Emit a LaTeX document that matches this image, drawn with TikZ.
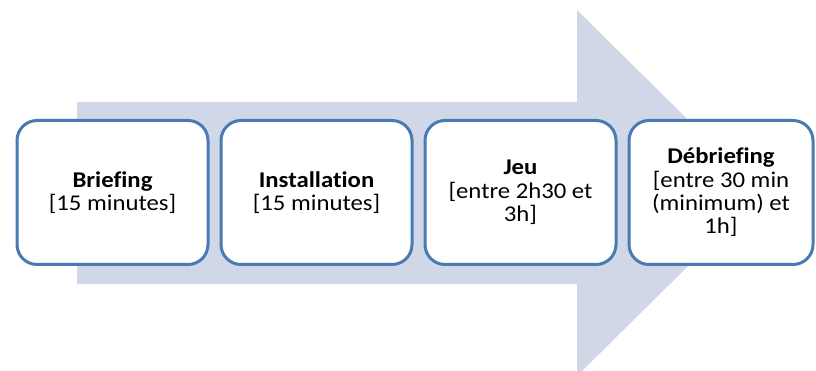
\documentclass[tikz,border=0pt]{standalone}
\usepackage{fontspec}
\setmainfont{Carlito}[FakeStretch=1.1, Ligatures=NoCommon]
\usetikzlibrary{positioning}
\definecolor{arrowfill}{RGB}{208,216,232}
\definecolor{boxline}{RGB}{74,122,180}

\begin{document}
\begin{tikzpicture}[
    x=1pt, y=-1pt,
    box/.style={draw=boxline, fill=white, line width=3pt, rounded corners=20pt,
        minimum width=191pt, minimum height=144pt, align=center, inner sep=0pt,
        font=\fontsize{22.5}{23.3}\selectfont},
]
    \useasboundingbox (0,0) rectangle (816,371);
    % Big arrow in the background
    \fill[arrowfill] (77,102) -- (577,102) -- (577,10) -- (762,193) -- (577,376)
        -- (577,284) -- (77,284) -- cycle;

    % Phases
    \node[box] (brief) at (112.5,192.5) {\textbf{Briefing}\\\relax [15 minutes]};
    \node[box, right=10pt of brief] (install) {\textbf{Installation}\\\relax [15 minutes]};
    \node[box, right=10pt of install] (jeu) {\textbf{Jeu}\\\relax [entre 2h30 et\\3h]};
    \node[box, minimum width=184pt, right=10pt of jeu] (debrief) {\textbf{Débriefing}\\\relax [entre 30 min\\(minimum) et\\1h]};
\end{tikzpicture}
\end{document}
